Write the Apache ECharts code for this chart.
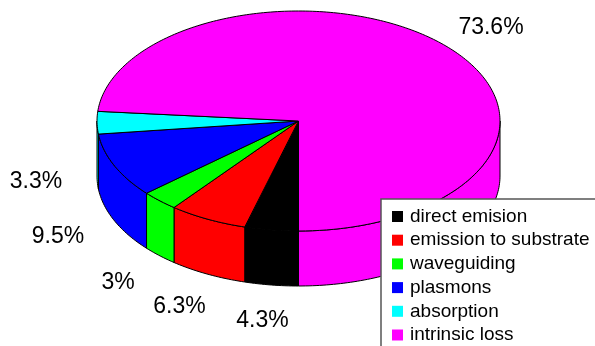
<!DOCTYPE html>
<html>
<head>
<meta charset="utf-8">
<style>
html,body{margin:0;padding:0;background:#fff;overflow:hidden}
#chart{width:595px;height:346px}
</style>
<script src="https://cdn.jsdelivr.net/npm/echarts@6/dist/echarts.min.js"></script>
</head>
<body>
<div id="chart"></div>
<script>
// Share of energy by loss channel, in percent
const categories = ['direct emision', 'emission to substrate', 'waveguiding', 'plasmons', 'absorption', 'intrinsic loss'];
const shares = [4.3, 6.3, 3, 9.5, 3.3, 73.6];
const colours = ['#000000', '#ff0000', '#00ff00', '#0000ff', '#00ffff', '#ff00ff'];

// Centre of each percentage label
const labelCentres = [[262.5, 320.5], [179.5, 306.5], [118, 282.5], [58, 236.5], [36, 181.5], [491, 27.5]];

// Tilted disc: top-face ellipse and the height of its rim
const disc = { cx: 298.5, cy: 121, rx: 201.5, ry: 110, depth: 55 };
const FONT = '"Liberation Sans", Arial, sans-serif';
const total = shares.reduce((a, b) => a + b, 0);

// Degrees run clockwise from straight down towards the viewer
function rim(deg, drop) {
  const t = deg * Math.PI / 180;
  return [disc.cx - disc.rx * Math.sin(t), disc.cy + disc.ry * Math.cos(t) + drop];
}
function arc(from, to, drop) {
  const pts = [];
  const n = Math.max(2, Math.ceil(Math.abs(to - from)));
  for (let i = 0; i <= n; i++) pts.push(rim(from + (to - from) * i / n, drop));
  return pts;
}

// Only the parts of the rim between -90 and 90 degrees face the viewer
function frontSpans(a, b) {
  const spans = [];
  if (a < 90) spans.push([a, Math.min(b, 90)]);
  if (b > 270) spans.push([Math.max(a, 270), b]);
  return spans;
}

function sliceRenderer(index) {
  const before = shares.slice(0, index).reduce((a, b) => a + b, 0);
  const start = before / total * 360;
  const end = (before + shares[index]) / total * 360;
  const fill = colours[index];
  const edge = { stroke: '#000', lineWidth: 1, lineJoin: 'round' };
  return function () {
    const children = [];
    frontSpans(start, end).forEach(function (span) {
      const points = arc(span[0], span[1], 0).concat(arc(span[1], span[0], disc.depth));
      children.push({ type: 'polygon', z2: 1, shape: { points: points },
        style: Object.assign({ fill: fill }, edge) });
    });
    children.push({ type: 'polygon', z2: 2,
      shape: { points: [[disc.cx, disc.cy]].concat(arc(start, end, 0)) },
      style: Object.assign({ fill: fill }, edge) });
    children.push({ type: 'text', z2: 3,
      x: labelCentres[index][0], y: labelCentres[index][1],
      style: { text: shares[index] + '%', fill: '#000', font: '23px ' + FONT,
        align: 'center', verticalAlign: 'middle' } });
    return { type: 'group', children: children };
  };
}

const chart = echarts.init(document.getElementById('chart'), null, { renderer: 'canvas' });
chart.setOption({
  animation: false,
  backgroundColor: '#fff',
  legend: {
    data: categories,
    orient: 'vertical',
    left: 381,
    top: 199,
    height: 260,
    width: 300,
    padding: [7.5, 40, 30, 11],
    itemWidth: 11,
    itemHeight: 11,
    itemGap: 3.7,
    icon: 'rect',
    selectedMode: false,
    backgroundColor: '#fff',
    borderColor: '#555',
    borderWidth: 1.5,
    textStyle: { color: '#000', fontFamily: FONT, fontSize: 19, lineHeight: 20, padding: [0, 0, 0, 2] },
    z: 10
  },
  series: categories.map(function (name, i) {
    return {
      type: 'custom',
      name: name,
      coordinateSystem: 'none',
      silent: true,
      itemStyle: { color: colours[i] },
      data: [shares[i]],
      renderItem: sliceRenderer(i)
    };
  })
});
</script>
</body>
</html>
